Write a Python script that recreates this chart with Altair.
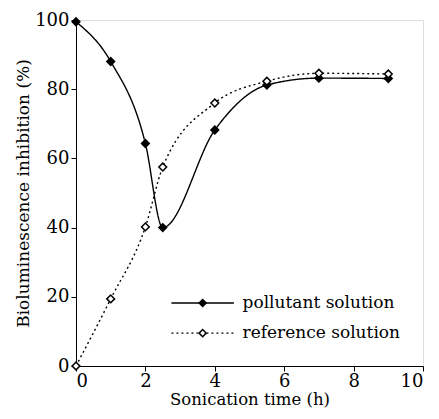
import altair as alt
import pandas as pd

time_h = [0, 1, 2, 2.5, 4, 5.5, 7, 9]
pollutant = [99.5, 88, 64.3, 40, 68.2, 81.2, 83.2, 83.1]
reference = [0, 19.4, 40.2, 57.5, 76, 82.3, 84.6, 84.4]
series_names = ["pollutant solution", "reference solution"]

df = pd.DataFrame({
    "t": time_h * 2,
    "v": pollutant + reference,
    "series": [series_names[0]] * len(time_h) + [series_names[1]] * len(time_h),
})

# legend table (in data units)
leg = pd.DataFrame({
    "series": series_names,
    "x1": [2.75, 2.75],
    "x2": [4.55, 4.55],
    "xm": [3.65, 3.65],
    "xt": [4.8, 4.8],
    "y": [18.2, 9.5],
})

FONT = "DejaVu Serif"
xs = alt.Scale(domain=[0, 10], nice=False)
ys = alt.Scale(domain=[0, 100], nice=False)
dash_scale = alt.Scale(domain=series_names, range=[[1, 0], [2, 3]])
fill_scale = alt.Scale(domain=series_names, range=["black", "white"])

xaxis = alt.Axis(
    values=list(range(11)), labelExpr="datum.value % 2 == 0 ? datum.label : ''",
    title="Sonication time (h)", grid=False, domainColor="black", tickColor="black",
    tickSize=5, labelFont=FONT, labelFontSize=18, labelColor="black", labelPadding=1,
    titleFont=FONT, titleFontSize=16.5, titleFontWeight="normal", titleColor="black", titlePadding=1,
)
yaxis = alt.Axis(
    values=list(range(0, 101, 10)), labelExpr="datum.value % 20 == 0 ? datum.label : ''",
    title="Bioluminescence inhibition (%)", grid=False, domainColor="black", tickColor="black",
    tickSize=5, labelFont=FONT, labelFontSize=18, labelColor="black", labelPadding=2,
    titleFont=FONT, titleFontSize=17, titleFontWeight="normal", titleColor="black", titlePadding=2,
)

base = alt.Chart(df)
lines = base.mark_line(interpolate="monotone", color="black", strokeWidth=1.4).encode(
    x=alt.X("t:Q", scale=xs, axis=xaxis),
    y=alt.Y("v:Q", scale=ys, axis=yaxis),
    detail="series:N",
    strokeDash=alt.StrokeDash("series:N", scale=dash_scale, legend=None),
)
points = base.mark_point(shape="diamond", size=60, stroke="black", strokeWidth=1.5, opacity=1, filled=False).encode(
    x=alt.X("t:Q", scale=xs),
    y=alt.Y("v:Q", scale=ys),
    fill=alt.Fill("series:N", scale=fill_scale, legend=None),
    order=alt.Order("series:N"),
)

lb = alt.Chart(leg)
leg_lines = lb.mark_rule(color="black", strokeWidth=1.4).encode(
    x=alt.X("x1:Q", scale=xs), x2="x2:Q", y=alt.Y("y:Q", scale=ys),
    strokeDash=alt.StrokeDash("series:N", scale=dash_scale, legend=None),
)
leg_pts = lb.mark_point(shape="diamond", size=50, stroke="black", strokeWidth=1.5, opacity=1).encode(
    x=alt.X("xm:Q", scale=xs), y=alt.Y("y:Q", scale=ys),
    fill=alt.Fill("series:N", scale=fill_scale, legend=None),
)
leg_text = lb.mark_text(align="left", baseline="middle", font=FONT, fontSize=17, color="black").encode(
    x=alt.X("xt:Q", scale=xs), y=alt.Y("y:Q", scale=ys), text="series:N",
)

chart = alt.layer(lines, points, leg_lines, leg_pts, leg_text).properties(
    width=347, height=346,
    autosize=alt.AutoSizeParams(type="none"),
    padding={"left": 68, "top": 12, "right": 8, "bottom": 45},
).configure_view(stroke="black", strokeWidth=1.2).configure(background="white", font=FONT)

chart.save("out.html", embed_options={"renderer": "svg", "actions": False})
